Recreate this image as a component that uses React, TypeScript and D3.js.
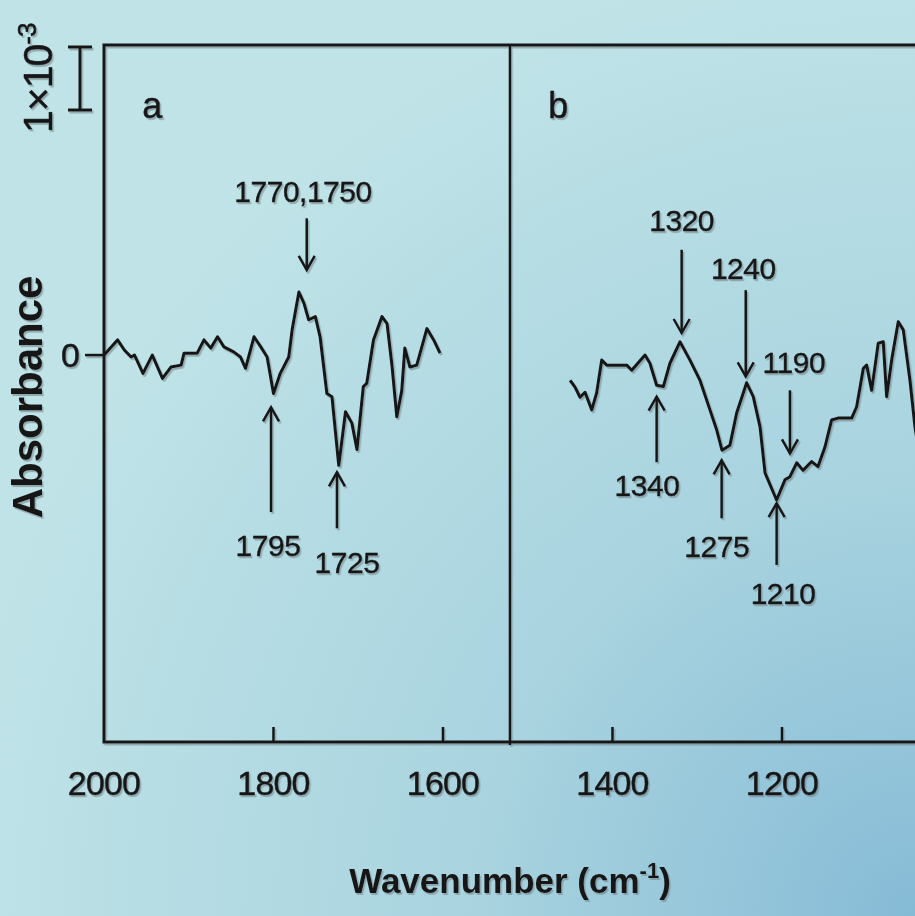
import React from "react";
import * as d3 from "d3";

// Difference spectrum, panel a (carbonyl region)
const waveA = [2000, 1984, 1976, 1968, 1964, 1954, 1943, 1931, 1921, 1909, 1905.5, 1890, 1882, 1874, 1866, 1858.5, 1847, 1839, 1833, 1823, 1815, 1807.5, 1800, 1792, 1782, 1778, 1770, 1764, 1758.5, 1750.6, 1745, 1737, 1731, 1723, 1715, 1707.5, 1701.5, 1694, 1690, 1682, 1672, 1666, 1660, 1654.5, 1648.6, 1645, 1639, 1631, 1627, 1619, 1611, 1603.5];
const absA = [0, 0.24, 0.08, -0.03, 0, -0.29, 0, -0.37, -0.19, -0.16, 0.03, 0.03, 0.24, 0.11, 0.29, 0.13, 0.05, -0.03, -0.21, 0.29, 0.13, -0.03, -0.61, -0.29, -0.03, 0.4, 1.0, 0.82, 0.56, 0.61, 0.29, -0.61, -0.66, -1.75, -0.9, -1.08, -1.5, -0.5, -0.45, 0.24, 0.61, 0.5, -0.19, -0.98, -0.56, 0.11, -0.19, -0.16, 0.03, 0.42, 0.24, 0.03];

// Difference spectrum, panel b (C-O / C-F region)
const waveB = [1450, 1444.2, 1438.3, 1432.4, 1424.5, 1418.7, 1412.7, 1406.8, 1383.2, 1377.3, 1361.6, 1355.8, 1347.9, 1340, 1332.2, 1320.4, 1308.6, 1296.8, 1285, 1277, 1270.8, 1261.4, 1253.5, 1241.7, 1233.9, 1225.9, 1220, 1206.4, 1196.5, 1190.6, 1182.6, 1175.2, 1165, 1157.5, 1149.3, 1141.4, 1133.9, 1117.8, 1111.9, 1104, 1100.1, 1094.2, 1086.4, 1080.5, 1076.5, 1070.6, 1062.8, 1056.9, 1049, 1043.1, 1034.8];
const absB = [-0.4, -0.51, -0.67, -0.59, -0.87, -0.6, -0.08, -0.16, -0.16, -0.24, 0, -0.13, -0.48, -0.5, -0.13, 0.21, -0.08, -0.4, -0.87, -1.19, -1.51, -1.43, -0.92, -0.44, -0.66, -1.14, -1.87, -2.3, -1.98, -1.93, -1.71, -1.83, -1.69, -1.77, -1.46, -1.03, -1, -1, -0.82, -0.21, -0.16, -0.56, 0.19, 0.21, -0.66, -0.08, 0.53, 0.4, -0.4, -1.14, -1.83];

// Band assignments: label, label position, arrow wavenumber, arrow tail and head (absorbance, ×10⁻³)
const bandLabels = ["1770,1750", "1795", "1725", "1340", "1320", "1240", "1190", "1275", "1210"];
const labelWave = [1765.2, 1806.5, 1713.3, 1359.3, 1318.4, 1245.7, 1186, 1277, 1198.8];
const labelAbs = [2.6, -3.02, -3.29, -2.06, 2.14, 1.38, -0.11, -3.04, -3.78];
const arrowWave = [1760.8, 1802.9, 1725.1, 1347.9, 1318.4, 1242.8, 1190.6, 1271.2, 1206.3];
const arrowTail = [2.17, -2.49, -2.75, -1.7, 1.67, 1.03, -0.56, -2.59, -3.33];
const arrowHead = [1.35, -0.83, -1.86, -0.66, 0.35, -0.34, -1.56, -1.67, -2.35];

const xTicks = [2000, 1800, 1600, 1400, 1200];
const yTicks = [0];
const xDomain = [2000, 1200];
const yDomain = [-6.14, 4.92];
const panelBreak = 1521;
const frameRight = 1000;
const scaleBar = [0, 1]; // 1×10⁻³ absorbance units
const panelNames = ["a", "b"];
const panelNameWave = [1943, 1464];

const W = 915;
const H = 916;
const FONT = "'Liberation Sans', Arial, Helvetica, sans-serif";

export default function App() {
  const x = d3.scaleLinear().domain(xDomain).range([104, 782]);
  const y = d3.scaleLinear().domain(yDomain).range([742, 45]);
  const line = d3
    .line<[number, number]>()
    .x((d) => x(d[0]))
    .y((d) => y(d[1]));
  const ptsA: [number, number][] = waveA.map((w, i) => [w, absA[i]]);
  const ptsB: [number, number][] = waveB.map((w, i) => [w, absB[i]]);

  const x0 = x(2000);
  const x1 = x(frameRight);
  const yTop = y(yDomain[1]);
  const yBot = y(yDomain[0]);
  const xb = x(panelBreak);

  const barX = 80;
  const barTop = y(yDomain[1]) + 2;
  const barBot = barTop + (y(scaleBar[0]) - y(scaleBar[1]));

  return (
    <>
      <style>{`body{margin:0;}`}</style>
      <svg width={W} height={H} style={{ display: "block" }} fontFamily={FONT}>
        <defs>
          <radialGradient id="bg" cx="100%" cy="100%" r="105%" fx="100%" fy="100%">
            <stop offset="0%" stopColor="#86bbd6" />
            <stop offset="45%" stopColor="#a8d3df" />
            <stop offset="100%" stopColor="#bfe3e7" />
          </radialGradient>
          <filter id="shade" x="-5%" y="-5%" width="110%" height="110%">
            <feDropShadow dx="1.5" dy="2" stdDeviation="0.6" floodColor="#6f7f84" floodOpacity="0.55" />
          </filter>
        </defs>
        <rect x={0} y={0} width={W} height={H} fill="url(#bg)" />

        <g filter="url(#shade)" fill="#141414" stroke="#141414">
          {/* frame and panel divider */}
          <path
            d={`M${x1},${yTop}H${x0}V${yBot}H${x1}`}
            fill="none"
            strokeWidth={3}
          />
          <line x1={xb} x2={xb} y1={yTop} y2={yBot + 3} strokeWidth={2.5} />

          {/* x ticks */}
          {xTicks.slice(1).map((t) => (
            <line key={t} x1={x(t)} x2={x(t)} y1={yBot} y2={yBot - 15} strokeWidth={2.5} />
          ))}
          {xTicks.map((t) => (
            <text
              key={"l" + t}
              x={x(t)}
              y={yBot + 53}
              textAnchor="middle"
              fontSize={34}
              strokeWidth={0.5}
              letterSpacing={-0.8}
            >
              {t}
            </text>
          ))}

          {/* y tick */}
          {yTicks.map((t) => (
            <g key={t}>
              <line x1={x0 - 19} x2={x0} y1={y(t)} y2={y(t)} strokeWidth={2.5} />
              <text x={80} y={y(t) + 12} textAnchor="end" fontSize={34} strokeWidth={0.5}>
                {t}
              </text>
            </g>
          ))}

          {/* scale bar */}
          <line x1={barX} x2={barX} y1={barTop} y2={barBot} strokeWidth={3} />
          <line x1={barX - 12} x2={barX + 12} y1={barTop} y2={barTop} strokeWidth={3} />
          <line x1={barX - 12} x2={barX + 12} y1={barBot} y2={barBot} strokeWidth={3} />
          <text
            transform={`translate(52,133) rotate(-90)`}
            fontSize={41}
            strokeWidth={0.5}
            letterSpacing={-1}
          >
            1×10
            <tspan fontSize={26} dy={-16}>
              -3
            </tspan>
          </text>

          {/* axis titles */}
          <text
            transform={`translate(42,397) rotate(-90)`}
            textAnchor="middle"
            fontSize={42}
            fontWeight="bold"
            stroke="none"
          >
            Absorbance
          </text>
          <text x={510} y={893} textAnchor="middle" fontSize={35} fontWeight="bold" stroke="none">
            Wavenumber (cm
            <tspan fontSize={22} dy={-15}>
              -1
            </tspan>
            <tspan dy={15}>)</tspan>
          </text>

          {/* panel names */}
          {panelNames.map((n, i) => (
            <text key={n} x={x(panelNameWave[i])} y={118} textAnchor="middle" fontSize={36} strokeWidth={0.5}>
              {n}
            </text>
          ))}

          {/* spectra */}
          <path d={line(ptsA) ?? ""} fill="none" strokeWidth={3} strokeLinejoin="round" />
          <path d={line(ptsB) ?? ""} fill="none" strokeWidth={3} strokeLinejoin="round" />

          {/* band arrows and labels */}
          {bandLabels.map((lab, i) => {
            const ax = x(arrowWave[i]);
            const ty = y(arrowTail[i]);
            const hy = y(arrowHead[i]);
            const dir = hy > ty ? 1 : -1;
            return (
              <g key={lab}>
                <line x1={ax} x2={ax} y1={ty} y2={hy} strokeWidth={2.5} />
                <path
                  d={`M${ax - 8},${hy - dir * 14}L${ax},${hy}L${ax + 8},${hy - dir * 14}`}
                  fill="none"
                  strokeWidth={2.5}
                />
                <text
                  x={x(labelWave[i])}
                  y={y(labelAbs[i])}
                  dy="0.36em"
                  textAnchor="middle"
                  fontSize={30}
                  strokeWidth={0.4}
                  letterSpacing={-0.5}
                >
                  {lab}
                </text>
              </g>
            );
          })}
        </g>
      </svg>
    </>
  );
}
